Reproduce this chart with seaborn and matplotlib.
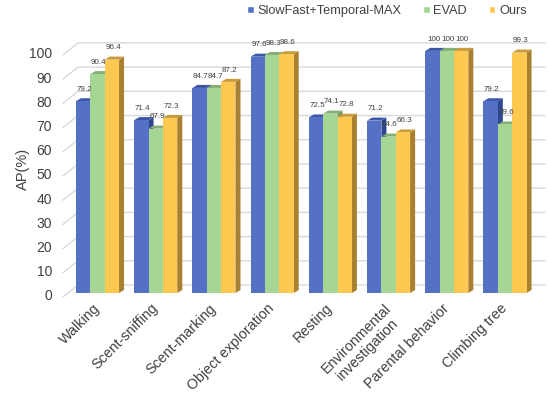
import numpy as np
import pandas as pd
import matplotlib
matplotlib.use("Agg")
import matplotlib.pyplot as plt
import matplotlib.transforms as mtransforms
from matplotlib.patches import Polygon
import seaborn as sns

sns.set_theme(style="white")
plt.rcParams['font.family'] = ['Liberation Sans', 'DejaVu Sans']

categories = ["Walking", "Scent-sniffing", "Scent-marking", "Object exploration",
              "Resting", "Environmental\ninvestigation", "Parental behavior", "Climbing tree"]
series = ["SlowFast+Temporal-MAX", "EVAD", "Ours"]
slowfast = [79.2, 71.4, 84.7, 97.6, 72.5, 71.2, 100, 79.2]
evad = [90.4, 67.9, 84.7, 98.3, 74.1, 64.6, 100, 69.6]
ours = [96.4, 72.3, 87.2, 98.6, 72.8, 66.3, 100, 99.3]
yticks = [0, 10, 20, 30, 40, 50, 60, 70, 80, 90, 100]

front = ["#5471C6", "#A5D693", "#FFC850"]
side = ["#2F4690", "#6E995F", "#A8802F"]
top = ["#3C57A8", "#86AF76", "#C99B3A"]

df = pd.DataFrame({
    "category": categories * 3,
    "method": [s for s in series for _ in categories],
    "AP": slowfast + evad + ours,
})

fig = plt.figure(figsize=(5.5, 3.95), dpi=100)
ax = fig.add_axes([63 / 550, 98 / 395, 482 / 550, 257 / 395])

sns.barplot(data=df, x="category", y="AP", hue="method", hue_order=series,
            palette=front, width=0.74, saturation=1, ax=ax, legend=True)

xmin, xmax = -0.593, 7.687
ax.set_xlim(xmin, xmax)
ax.set_ylim(-1.65, 104.5)

# fake 3d walls: slanted ticks + back-wall gridlines
gdx, gdy_front, gdy_back = 15 / 58.2, -1.65, 3.3
for v in yticks:
    ax.plot([xmin, xmin + gdx, xmax], [v + gdy_front, v + gdy_back, v + gdy_back],
            color="#D9D9D9", lw=1, zorder=0.5, clip_on=False)

# bar depth
dx, dy = 5 / 58.2, 1.25
for i, cont in enumerate(ax.containers):
    for bar in cont.patches:
        x0 = bar.get_x()
        x1 = x0 + bar.get_width()
        h = bar.get_height()
        bar.set_edgecolor("none")
        ax.add_patch(Polygon([(x1, 0), (x1 + dx, dy), (x1 + dx, h + dy), (x1, h)],
                             closed=True, facecolor=side[i], edgecolor="none", zorder=0.9))
        ax.add_patch(Polygon([(x0, h), (x1, h), (x1 + dx, h + dy), (x0 + dx, h + dy)],
                             closed=True, facecolor=top[i], edgecolor="none", zorder=0.9))
        ax.text((x0 + x1) / 2 + dx / 4, h + dy + 2.2, f"{h:g}", ha="center", va="bottom",
                fontsize=5.8, color="#404040", zorder=3)

ax.set_yticks([v - 0.8 for v in yticks])
ax.set_yticklabels([str(v) for v in yticks], fontsize=10, color="#404040")
ax.tick_params(axis="y", length=0, pad=8)
ax.tick_params(axis="x", length=0, pad=3)
ax.set_xticks(range(len(categories)))
ax.set_xticklabels(categories, rotation=45, ha="right", rotation_mode="anchor",
                   fontsize=10.3, color="#404040", multialignment="center")
shift = mtransforms.ScaledTranslation(-5 / 100, 0, fig.dpi_scale_trans)
for lab in ax.get_xticklabels():
    lab.set_transform(lab.get_transform() + shift)
ax.set_xlabel("")
ax.set_ylabel("AP(%)", fontsize=10.5, color="#404040", labelpad=0)
ax.yaxis.set_label_coords(-0.068, 0.5)
sns.despine(ax=ax, left=True, bottom=True)

handles, labels = ax.get_legend_handles_labels()
ax.legend(handles, labels, loc="center right", bbox_to_anchor=(533 / 550, 1 - 11 / 395),
          bbox_transform=fig.transFigure, ncol=3, frameon=False, fontsize=9.2,
          handlelength=0.5, handleheight=0.5, handletextpad=0.3, columnspacing=1.7,
          labelcolor="#404040", borderpad=0)

fig.savefig("out.png", dpi=100)
